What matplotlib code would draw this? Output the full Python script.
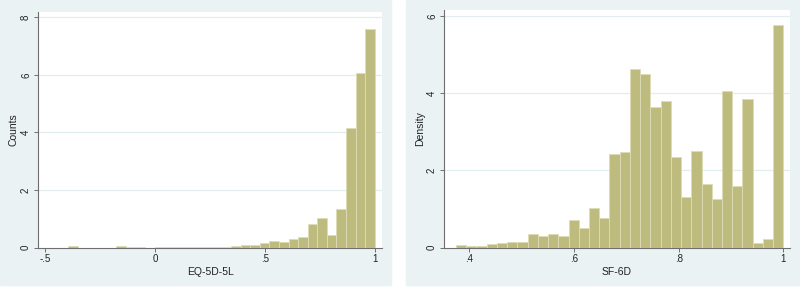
import matplotlib
matplotlib.use("Agg")
import matplotlib.pyplot as plt
import numpy as np
from matplotlib.patches import Rectangle

## Data
# EQ-5D-5L: 32 bins starting at -0.394
eq_start = -0.394
eq_width = 0.04356
eq_heights = [
    0.04, 0.0, 0.0, 0.0, 0.0, 0.04, 0.02, 0.02, 0.0, 0.03, 0.01, 0.01,
    0.03, 0.03, 0.01, 0.02, 0.03, 0.05, 0.07, 0.10, 0.17, 0.21, 0.19, 0.29,
    0.35, 0.81, 1.03, 0.45, 1.33, 4.15, 6.05, 7.58,
]
eq_xticks = [-0.5, 0, 0.5, 1]
eq_xticklabels = ["-.5", "0", ".5", "1"]
eq_yticks = [0, 2, 4, 6, 8]

# SF-6D: 32 bins starting at 0.3745
sf_start = 0.3745
sf_width = 0.01955
sf_heights = [
    0.06, 0.03, 0.03, 0.08, 0.11, 0.15, 0.15, 0.36, 0.30, 0.36, 0.29, 0.71,
    0.50, 1.02, 0.76, 2.42, 2.47, 4.64, 4.49, 3.64, 3.80, 2.34, 1.31, 2.50,
    1.65, 1.27, 4.06, 1.59, 3.84, 0.11, 0.23, 5.77,
]
sf_xticks = [0.4, 0.6, 0.8, 1]
sf_xticklabels = [".4", ".6", ".8", "1"]
sf_yticks = [0, 2, 4, 6]

### Style
plt.rcParams["font.family"] = ["Liberation Sans", "DejaVu Sans"]
BG = "#EAF2F3"
BAR = "#BEBB7E"
EDGE = "#DEDCB6"
GRID = "#E2EDEF"
AXIS = "#6E6E6E"

W, H = 800, 287
fig = plt.figure(figsize=(W / 100, H / 100), dpi=100)
fig.patch.set_facecolor("white")

# panel backgrounds (behind the axes)
fig.patches.append(Rectangle((0, 2 / H), 391 / W, 1 - 2 / H,
                             transform=fig.transFigure, color=BG, zorder=-10))
fig.patches.append(Rectangle((406 / W, 2 / H), 1 - 406 / W, 1 - 2 / H,
                             transform=fig.transFigure, color=BG, zorder=-10))


def panel(rect, start, width, heights, xticks, xticklabels, yticks,
          xlim, ylim, xlabel, ylabel):
    """Draw one Stata-style histogram panel."""
    ax = fig.add_axes(rect, zorder=1)
    ax.set_facecolor("white")
    edges = start + width * np.arange(len(heights))
    ax.bar(edges, heights, width=width, align="edge", color=BAR,
           edgecolor=EDGE, linewidth=0.6, zorder=3)
    for y in yticks[1:]:
        ax.axhline(y, color=GRID, linewidth=0.9, zorder=1)
    ax.set_xlim(xlim)
    ax.set_ylim(ylim)
    ax.set_xticks(xticks)
    ax.set_xticklabels(xticklabels)
    ax.set_yticks(yticks)
    ax.set_yticklabels([str(v) for v in yticks], rotation=90, va="center")
    for s in ["top", "right"]:
        ax.spines[s].set_visible(False)
    for s in ["left", "bottom"]:
        ax.spines[s].set_color(AXIS)
        ax.spines[s].set_linewidth(0.8)
    ax.tick_params(axis="both", direction="out", length=3, width=0.7,
                   color=AXIS, labelsize=7, labelcolor="#222222", pad=2)
    ax.set_xlabel(xlabel, fontsize=7.5, color="#222222", labelpad=2)
    ax.set_ylabel(ylabel, fontsize=7.5, color="#222222", labelpad=1.5)
    return ax


panel([38 / W, (H - 247.5) / H, (382 - 38) / W, (247.5 - 12) / H],
      eq_start, eq_width, eq_heights, eq_xticks, eq_xticklabels, eq_yticks,
      (-0.532, 1.033), (0, 8.18), "EQ-5D-5L", "Counts")

panel([444 / W, (H - 247.5) / H, (790 - 444) / W, (247.5 - 10) / H],
      sf_start, sf_width, sf_heights, sf_xticks, sf_xticklabels, sf_yticks,
      (0.3516, 1.0128), (0, 6.16), "SF-6D", "Density")

fig.savefig("out.png", dpi=100)
